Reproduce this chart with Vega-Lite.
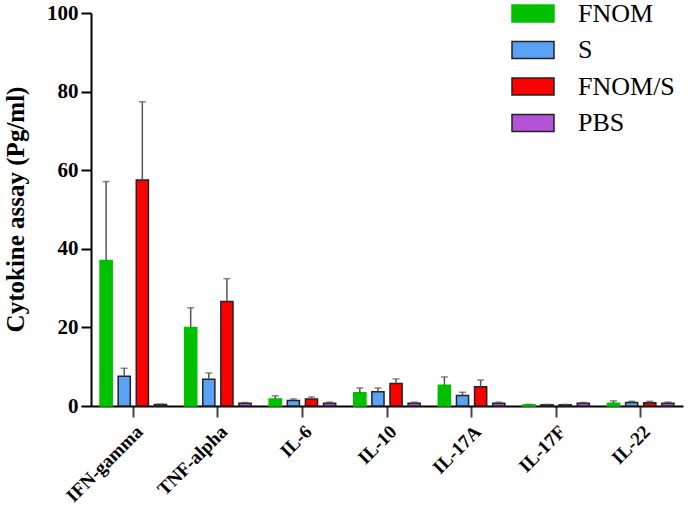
{
  "$schema": "https://vega.github.io/schema/vega-lite/v6.json",
  "width": 592,
  "height": 393,
  "autosize": {"type": "none"},
  "padding": {"left": 91, "top": 13, "right": 5, "bottom": 100},
  "background": "white",
  "config": {"view": {"stroke": null}},
  "data": {"values": [
    {"cytokine": "IFN-gamma", "group": "FNOM", "value": 37.0, "upper": 57.1},
    {"cytokine": "IFN-gamma", "group": "S", "value": 7.6, "upper": 9.6},
    {"cytokine": "IFN-gamma", "group": "FNOM/S", "value": 57.5, "upper": 77.4},
    {"cytokine": "IFN-gamma", "group": "PBS", "value": 0.4, "upper": 0.5},
    {"cytokine": "TNF-alpha", "group": "FNOM", "value": 20.0, "upper": 25.0},
    {"cytokine": "TNF-alpha", "group": "S", "value": 6.8, "upper": 8.4},
    {"cytokine": "TNF-alpha", "group": "FNOM/S", "value": 26.6, "upper": 32.4},
    {"cytokine": "TNF-alpha", "group": "PBS", "value": 0.7, "upper": 0.9},
    {"cytokine": "IL-6", "group": "FNOM", "value": 1.8, "upper": 2.6},
    {"cytokine": "IL-6", "group": "S", "value": 1.4, "upper": 1.8},
    {"cytokine": "IL-6", "group": "FNOM/S", "value": 1.8, "upper": 2.3},
    {"cytokine": "IL-6", "group": "PBS", "value": 0.7, "upper": 1.0},
    {"cytokine": "IL-10", "group": "FNOM", "value": 3.4, "upper": 4.6},
    {"cytokine": "IL-10", "group": "S", "value": 3.6, "upper": 4.6},
    {"cytokine": "IL-10", "group": "FNOM/S", "value": 5.7, "upper": 6.9},
    {"cytokine": "IL-10", "group": "PBS", "value": 0.7, "upper": 1.0},
    {"cytokine": "IL-17A", "group": "FNOM", "value": 5.3, "upper": 7.4},
    {"cytokine": "IL-17A", "group": "S", "value": 2.7, "upper": 3.5},
    {"cytokine": "IL-17A", "group": "FNOM/S", "value": 4.9, "upper": 6.6},
    {"cytokine": "IL-17A", "group": "PBS", "value": 0.7, "upper": 1.0},
    {"cytokine": "IL-17F", "group": "FNOM", "value": 0.3, "upper": 0.4},
    {"cytokine": "IL-17F", "group": "S", "value": 0.3, "upper": 0.4},
    {"cytokine": "IL-17F", "group": "FNOM/S", "value": 0.3, "upper": 0.4},
    {"cytokine": "IL-17F", "group": "PBS", "value": 0.7, "upper": 0.9},
    {"cytokine": "IL-22", "group": "FNOM", "value": 0.7, "upper": 1.3},
    {"cytokine": "IL-22", "group": "S", "value": 0.9, "upper": 1.2},
    {"cytokine": "IL-22", "group": "FNOM/S", "value": 0.8, "upper": 1.2},
    {"cytokine": "IL-22", "group": "PBS", "value": 0.7, "upper": 1.0}
  ]},
  "encoding": {
    "x": {
      "field": "cytokine", "type": "nominal",
      "sort": ["IFN-gamma", "TNF-alpha", "IL-6", "IL-10", "IL-17A", "IL-17F", "IL-22"],
      "scale": {"paddingInner": 0, "paddingOuter": 0},
      "axis": {
        "title": null, "domainColor": "black", "domainWidth": 2,
        "tickColor": "#444", "tickWidth": 2, "tickSize": 11,
        "labelAngle": -45, "labelFont": "Liberation Serif", "labelFontWeight": "bold",
        "labelFontSize": 19, "labelColor": "black", "labelPadding": 5
      }
    },
    "xOffset": {
      "field": "group", "type": "nominal",
      "sort": ["FNOM", "S", "FNOM/S", "PBS"],
      "scale": {"paddingInner": 0.33, "paddingOuter": 0.5}
    }
  },
  "layer": [
    {
      "mark": {"type": "bar", "strokeWidth": 1.5},
      "encoding": {
        "y": {
          "field": "value", "type": "quantitative",
          "scale": {"domain": [0, 100], "nice": false},
          "axis": {
            "values": [0, 20, 40, 60, 80, 100], "grid": false,
            "domainColor": "black", "domainWidth": 2,
            "tickColor": "black", "tickWidth": 2, "tickSize": 10,
            "labelFont": "Liberation Serif", "labelFontWeight": "bold", "labelFontSize": 21,
            "labelColor": "black", "labelPadding": 3,
            "title": "Cytokine assay (Pg/ml)", "titleFont": "Liberation Serif",
            "titleFontWeight": "bold", "titleFontSize": 25, "titleColor": "black",
            "titleAngle": 270, "titleX": -68, "titleY": 196, "titleBaseline": "alphabetic",
            "titleAlign": "center"
          }
        },
        "fill": {
          "field": "group", "type": "nominal",
          "sort": ["FNOM", "S", "FNOM/S", "PBS"],
          "scale": {"domain": ["FNOM", "S", "FNOM/S", "PBS"], "range": ["#00c000", "#5aa2f5", "#ff0000", "#b352d6"]},
          "legend": {
            "title": null, "orient": "none", "legendX": 420, "legendY": -21.5, "padding": 0,
            "symbolType": "M-1,-0.4H1V0.4H-1Z", "symbolSize": 1764, "symbolStrokeWidth": 1.5,
            "labelFont": "Liberation Serif", "labelFontSize": 26, "labelColor": "black",
            "labelOffset": 23, "rowPadding": 1.5, "symbolOpacity": 1
          }
        },
        "stroke": {
          "field": "group", "type": "nominal",
          "sort": ["FNOM", "S", "FNOM/S", "PBS"],
          "scale": {"domain": ["FNOM", "S", "FNOM/S", "PBS"], "range": ["#00c000", "#222222", "#222222", "#222222"]},
          "legend": {
            "title": null, "orient": "none", "legendX": 420, "legendY": -21.5, "padding": 0,
            "symbolType": "M-1,-0.4H1V0.4H-1Z", "symbolSize": 1764, "symbolStrokeWidth": 1.5,
            "labelFont": "Liberation Serif", "labelFontSize": 26, "labelColor": "black",
            "labelOffset": 23, "rowPadding": 1.5, "symbolOpacity": 1
          }
        }
      }
    },
    {
      "mark": {"type": "rule", "color": "#555555", "strokeWidth": 1.5},
      "encoding": {
        "y": {"field": "value", "type": "quantitative"},
        "y2": {"field": "upper"}
      }
    },
    {
      "mark": {"type": "tick", "orient": "horizontal", "color": "#555555", "size": 7, "thickness": 1.5},
      "encoding": {
        "y": {"field": "upper", "type": "quantitative"}
      }
    }
  ]
}
